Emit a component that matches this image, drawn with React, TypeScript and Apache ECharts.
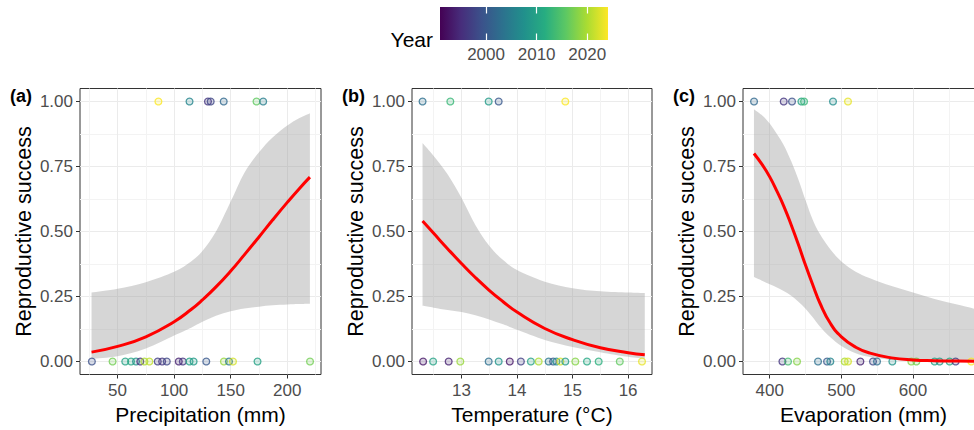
import React, { useEffect, useRef } from "react";
import * as echarts from "echarts";

const FONT = "'Liberation Sans', Arial, Helvetica, sans-serif";

// ---------- Data ----------
// Panel (a): precipitation
const precipFailX = [27.3, 45.6, 56.8, 61.9, 66.3, 70.1, 73.7, 78.1, 85.5, 89.4, 93.5, 104.1, 107.7, 113.6, 117.2, 128.4, 144.0, 148.5, 152.0, 173.7, 220.1];
const precipFailYear = [1999, 2017, 2010, 2011, 2008, 1995, 2020, 2021, 1997, 1996, 1998, 1994, 1996, 2010, 2009, 2000, 2019, 2004, 2022, 2010, 2017];
const precipSuccessX = [86.1, 113.6, 129.9, 132.3, 143.8, 172.8, 178.7];
const precipSuccessYear = [2024, 2006, 1996, 1998, 2002, 2016, 2005];
const precipFitX = [27, 50, 75, 100, 115, 125, 137, 150, 162, 175, 187, 200, 210, 220];
const precipFit = [0.036, 0.058, 0.095, 0.153, 0.2, 0.237, 0.287, 0.348, 0.41, 0.479, 0.544, 0.612, 0.662, 0.709];
const precipLower = [0.01, 0.02, 0.05, 0.1, 0.13, 0.153, 0.176, 0.193, 0.204, 0.211, 0.216, 0.219, 0.221, 0.222];
const precipUpper = [0.265, 0.28, 0.305, 0.345, 0.385, 0.425, 0.5, 0.615, 0.725, 0.805, 0.862, 0.908, 0.935, 0.955];
const precipTicks = [50, 100, 150, 200];

// Panel (b): temperature
const tempFailX = [12.31, 12.49, 12.77, 12.98, 13.49, 13.67, 13.87, 14.07, 14.25, 14.39, 14.57, 14.65, 14.71, 14.78, 14.87, 15.05, 15.26, 15.47, 15.85, 16.25];
const tempFailYear = [1993, 2010, 1994, 2019, 2003, 2008, 1993, 1997, 2010, 2020, 2004, 2000, 2007, 2022, 2009, 2018, 2011, 2012, 2016, 2023];
const tempSuccessX = [12.3, 12.8, 13.49, 13.67, 14.87];
const tempSuccessYear = [2003, 2013, 2009, 2000, 2024];
const tempFitX = [12.3, 12.5, 12.75, 13.0, 13.25, 13.5, 13.75, 14.0, 14.5, 15.0, 15.5, 16.0, 16.3];
const tempFit = [0.54, 0.493, 0.434, 0.377, 0.323, 0.274, 0.23, 0.19, 0.127, 0.084, 0.053, 0.034, 0.026];
const tempLower = [0.214, 0.207, 0.198, 0.19, 0.178, 0.162, 0.143, 0.122, 0.083, 0.056, 0.036, 0.018, 0.01];
const tempUpper = [0.84, 0.79, 0.72, 0.63, 0.525, 0.445, 0.39, 0.352, 0.307, 0.282, 0.27, 0.265, 0.263];
const tempTicks = [13, 14, 15, 16];

// Panel (c): evaporation
const evapFailX = [417.7, 425.5, 438.1, 467.4, 480.0, 484.6, 504.6, 509.2, 526.5, 544.1, 549.7, 571.1, 597.6, 604.6, 630.1, 637.1, 651.0, 659.4, 681.3];
const evapFailYear = [1996, 2014, 2018, 2003, 2000, 2006, 2020, 2022, 1994, 1998, 2003, 2008, 2018, 2017, 2010, 2009, 2011, 1997, 2024];
const evapSuccessX = [378.1, 419.5, 431.1, 444.2, 447.9, 488.3, 509.2];
const evapSuccessYear = [2002, 1996, 1999, 2010, 2013, 2007, 2023];
const evapFitX = [378, 390, 400, 410, 420, 430, 440, 450, 460, 470, 485, 500, 520, 540, 570, 600, 630, 660, 690];
const evapFit = [0.8, 0.755, 0.71, 0.655, 0.595, 0.525, 0.45, 0.37, 0.295, 0.225, 0.145, 0.095, 0.055, 0.032, 0.014, 0.006, 0.003, 0.0015, 0.0007];
const evapLower = [0.325, 0.31, 0.297, 0.285, 0.27, 0.253, 0.23, 0.203, 0.17, 0.135, 0.092, 0.06, 0.032, 0.017, 0.006, 0.002, 0.001, 0, 0];
const evapUpper = [0.97, 0.945, 0.915, 0.875, 0.83, 0.77, 0.7, 0.62, 0.545, 0.49, 0.43, 0.385, 0.345, 0.32, 0.29, 0.265, 0.24, 0.22, 0.2];
const evapTicks = [400, 500, 600];

const yTicks = [0, 0.25, 0.5, 0.75, 1];
const yearTicks = [2000, 2010, 2020];
const yearRange = [1990.9, 2024.1];

// ---------- Styling helpers ----------
const viridis = ["#440154", "#472D7B", "#3B528B", "#2C728E", "#21908C", "#27AD81", "#5DC863", "#AADC32", "#FDE725"];

function hexToRgb(h: string): number[] {
  const n = parseInt(h.slice(1), 16);
  return [(n >> 16) & 255, (n >> 8) & 255, n & 255];
}

function yearColor(year: number, alpha = 1): string {
  const t = Math.max(0, Math.min(1, (year - yearRange[0]) / (yearRange[1] - yearRange[0])));
  const pos = t * (viridis.length - 1);
  const i = Math.min(viridis.length - 2, Math.floor(pos));
  const f = pos - i;
  const a = hexToRgb(viridis[i]);
  const b = hexToRgb(viridis[i + 1]);
  const c = a.map((v, k) => Math.round(v + (b[k] - v) * f));
  return `rgba(${c[0]},${c[1]},${c[2]},${alpha})`;
}

// Catmull-Rom -> cubic Bezier path segments through given pixel points
function smoothSegments(pts: number[][]): string {
  let d = "";
  for (let i = 0; i < pts.length - 1; i++) {
    const p0 = pts[Math.max(0, i - 1)];
    const p1 = pts[i];
    const p2 = pts[i + 1];
    const p3 = pts[Math.min(pts.length - 1, i + 2)];
    const c1x = p1[0] + (p2[0] - p0[0]) / 6;
    const c1y = p1[1] + (p2[1] - p0[1]) / 6;
    const c2x = p2[0] - (p3[0] - p1[0]) / 6;
    const c2y = p2[1] - (p3[1] - p1[1]) / 6;
    d += ` C${c1x.toFixed(2)},${c1y.toFixed(2)} ${c2x.toFixed(2)},${c2y.toFixed(2)} ${p2[0].toFixed(2)},${p2[1].toFixed(2)}`;
  }
  return d;
}

const panels = [
  { label: "(a)", name: "Precipitation (mm)", left: 80, width: 241, min: 16.8, max: 229.8, split: 5, ticks: precipTicks,
    failX: precipFailX, failYear: precipFailYear, succX: precipSuccessX, succYear: precipSuccessYear,
    fitX: precipFitX, fit: precipFit, lower: precipLower, upper: precipUpper },
  { label: "(b)", name: "Temperature (°C)", left: 412, width: 240, min: 12.11, max: 16.43, split: 5, ticks: tempTicks,
    failX: tempFailX, failYear: tempFailYear, succX: tempSuccessX, succYear: tempSuccessYear,
    fitX: tempFitX, fit: tempFit, lower: tempLower, upper: tempUpper },
  { label: "(c)", name: "Evaporation (mm)", left: 743, width: 241, min: 362.7, max: 699, split: 3, ticks: evapTicks,
    failX: evapFailX, failYear: evapFailYear, succX: evapSuccessX, succYear: evapSuccessYear,
    fitX: evapFitX, fit: evapFit, lower: evapLower, upper: evapUpper },
];

const FRAME_TOP = 88.5;
const FRAME_H = 286;
const DATA_TOP = 101.5;
const DATA_H = 260;

const MAJOR = "#EBEBEB";
const MINOR = "#F3F3F3";
const AXIS_TEXT = "#4D4D4D";

function buildOption() {
  const grid: any[] = [];
  const xAxis: any[] = [];
  const yAxis: any[] = [];
  const series: any[] = [];

  panels.forEach((p) => {
    grid.push({ left: p.left, width: p.width, top: FRAME_TOP, height: FRAME_H, show: true, borderColor: "#333333", borderWidth: 1, backgroundColor: "transparent", containLabel: false, outerBoundsMode: "none" });
  });
  panels.forEach((p) => {
    grid.push({ left: p.left, width: p.width, top: DATA_TOP, height: DATA_H, show: false, containLabel: false, outerBoundsMode: "none" });
  });
  grid.push({
    left: 440, width: 168, top: 7, height: 33, show: true, borderWidth: 0, containLabel: false, outerBoundsMode: "none",
    backgroundColor: new echarts.graphic.LinearGradient(0, 0, 1, 0,
      viridis.map((c, i) => ({ offset: i / (viridis.length - 1), color: c }))),
  });

  panels.forEach((p, i) => {
    xAxis.push({
      gridIndex: i, type: "value", min: p.min, max: p.max, splitNumber: p.split,
      axisLine: { show: false, onZero: false },
      axisTick: { show: true, length: 4, lineStyle: { color: "#333333", width: 1 }, customValues: p.ticks },
      axisLabel: { customValues: p.ticks, fontSize: 17, color: AXIS_TEXT, margin: 7, fontFamily: FONT },
      splitLine: { show: true, lineStyle: { color: MAJOR, width: 1 } },
      minorTick: { show: false, splitNumber: 2 },
      minorSplitLine: { show: true, lineStyle: { color: MINOR, width: 1 } },
      name: p.name, nameLocation: "middle", nameGap: 29,
      nameTextStyle: { fontSize: 21, color: "#000", fontFamily: FONT },
    });
    yAxis.push({ gridIndex: i, type: "value", min: -0.05, max: 1.05, show: false });
  });

  panels.forEach((p, i) => {
    xAxis.push({ gridIndex: 3 + i, type: "value", min: p.min, max: p.max, show: false, splitLine: { show: false } });
    yAxis.push({
      gridIndex: 3 + i, type: "value", min: 0, max: 1, interval: 0.25,
      axisLine: { show: false, onZero: false },
      axisTick: { show: true, length: 4, lineStyle: { color: "#333333", width: 1 }, customValues: yTicks },
      axisLabel: { customValues: yTicks, formatter: (v: number) => v.toFixed(2), fontSize: 17, color: AXIS_TEXT, margin: 7, fontFamily: FONT },
      splitLine: { show: true, lineStyle: { color: MAJOR, width: 1 } },
      minorTick: { show: false, splitNumber: 2 },
      minorSplitLine: { show: true, lineStyle: { color: MINOR, width: 1 } },
      name: "Reproductive success", nameLocation: "middle", nameGap: 45,
      nameTextStyle: { fontSize: 21.5, color: "#000", fontFamily: FONT },
    });

    const xi = 3 + i;
    series.push({
      type: "custom", xAxisIndex: xi, yAxisIndex: xi, silent: true, clip: true, z: 1,
      data: p.fitX.map((x, k) => [x, p.lower[k], p.upper[k]]),
      encode: { x: 0, y: [1, 2] },
      renderItem: (params: any, api: any) => {
        if (params.dataIndex !== 0) return null;
        const up = p.fitX.map((x, k) => api.coord([x, p.upper[k]]));
        const lo = p.fitX.map((x, k) => api.coord([x, p.lower[k]])).reverse();
        const d = `M${up[0][0].toFixed(2)},${up[0][1].toFixed(2)}` + smoothSegments(up) +
          ` L${lo[0][0].toFixed(2)},${lo[0][1].toFixed(2)}` + smoothSegments(lo) + " Z";
        return { type: "path", shape: { pathData: d }, style: { fill: "rgba(153,153,153,0.4)", stroke: "none" } };
      },
    });
    const pts: any[] = [];
    p.failX.forEach((x, k) => {
      const yr = p.failYear[k];
      pts.push({ value: [x, 0, yr], itemStyle: { color: yearColor(yr, 0.25), borderColor: yearColor(yr, 1), borderWidth: 1.3 } });
    });
    p.succX.forEach((x, k) => {
      const yr = p.succYear[k];
      pts.push({ value: [x, 1, yr], itemStyle: { color: yearColor(yr, 0.25), borderColor: yearColor(yr, 1), borderWidth: 1.3 } });
    });
    series.push({
      type: "scatter", xAxisIndex: xi, yAxisIndex: xi, symbol: "circle", symbolSize: 6.8, clip: false,
      silent: true, data: pts, z: 3,
    });
    series.push({
      type: "line", xAxisIndex: xi, yAxisIndex: xi, symbol: "none", smooth: 0.5, silent: true,
      lineStyle: { color: "#FF0000", width: 3 },
      data: p.fitX.map((x, k) => [x, p.fit[k]]),
      z: 4,
    });
  });

  xAxis.push({
    gridIndex: 6, type: "value", min: yearRange[0], max: yearRange[1], position: "bottom",
    axisLine: { show: false, onZero: false },
    axisTick: { show: true, inside: true, length: 6.5, lineStyle: { color: "#FFFFFF", width: 1.2 }, customValues: yearTicks },
    axisLabel: { customValues: yearTicks, formatter: (v: number) => String(Math.round(v)), fontSize: 17, color: AXIS_TEXT, margin: 6, fontFamily: FONT },
    splitLine: { show: false },
  });
  xAxis.push({
    gridIndex: 6, type: "value", min: yearRange[0], max: yearRange[1], position: "top",
    axisLine: { show: false, onZero: false },
    axisTick: { show: true, inside: true, length: 6.5, lineStyle: { color: "#FFFFFF", width: 1.2 }, customValues: yearTicks },
    axisLabel: { show: false },
    splitLine: { show: false },
  });
  yAxis.push({ gridIndex: 6, type: "value", min: 0, max: 1, show: false });

  const graphic: any[] = panels.map((p, i) => ({
    type: "text", x: [10, 342, 673][i], y: 96,
    style: { text: p.label, fontSize: 18, fontWeight: "bold", fontFamily: FONT, fill: "#000", verticalAlign: "middle", align: "left" },
  }));
  graphic.push({
    type: "text", x: 433, y: 39,
    style: { text: "Year", fontSize: 21, fontFamily: FONT, fill: "#000", verticalAlign: "middle", align: "right" },
  });

  return {
    animation: false,
    backgroundColor: "#FFFFFF",
    textStyle: { fontFamily: FONT },
    grid, xAxis, yAxis, series, graphic,
  };
}

export default function App() {
  const ref = useRef<HTMLDivElement>(null);
  useEffect(() => {
    if (!ref.current) return;
    const chart = echarts.init(ref.current, null, { renderer: "svg" });
    chart.setOption(buildOption() as any);
    return () => chart.dispose();
  }, []);
  return (
    <div
      ref={ref}
      style={{ position: "absolute", left: 0, top: 0, width: 974, height: 430, overflow: "hidden", background: "#fff" }}
    />
  );
}
